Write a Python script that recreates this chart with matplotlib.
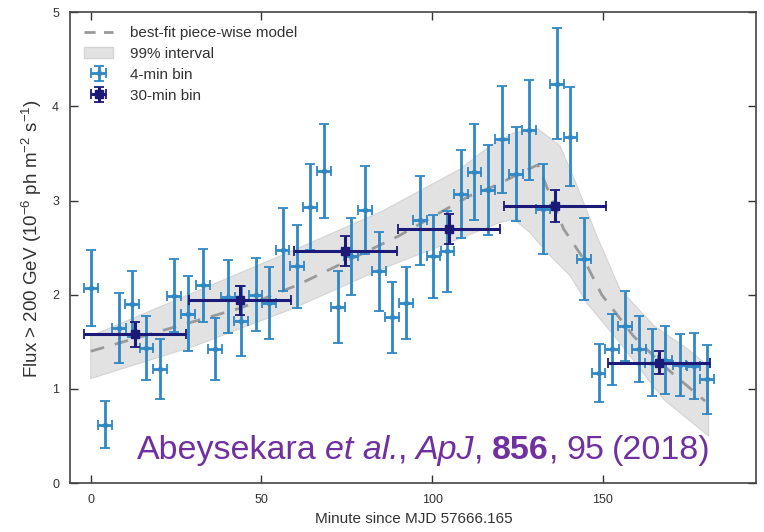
import numpy as np
import matplotlib
matplotlib.use("Agg")
import matplotlib.pyplot as plt
from matplotlib.patches import Patch
from matplotlib.lines import Line2D
from matplotlib.offsetbox import TextArea, HPacker, DrawingArea, AnnotationBbox

plt.rcParams['font.family'] = ['Liberation Sans', 'DejaVu Sans']
plt.rcParams['mathtext.fontset'] = 'custom'
plt.rcParams['mathtext.rm'] = 'Liberation Sans'
plt.rcParams['mathtext.it'] = 'Liberation Sans:italic'
plt.rcParams['mathtext.bf'] = 'Liberation Sans:bold'

# 4-min bins
t4 = [0, 4.1, 8.2, 12.1, 16.3, 20.2, 24.4, 28.4, 32.8, 36.4, 40.2, 44.1, 48.3, 52.3,
      56.2, 60.5, 64.2, 68.4, 72.5, 76.2, 80.3, 84.4, 88.3, 92.3, 96.5, 100.4, 104.5,
      108.4, 112.4, 116.3, 120.4, 124.5, 128.4, 132.5, 136.6, 140.5, 144.5, 148.8,
      152.7, 156.6, 160.7, 164.4, 168.3, 172.5, 176.6, 180.5]
flux4 = [2.07, 0.62, 1.65, 1.90, 1.43, 1.21, 1.99, 1.80, 2.10, 1.42, 1.98, 1.72, 2.00,
         1.91, 2.48, 2.30, 2.93, 3.31, 1.87, 2.41, 2.90, 2.25, 1.76, 1.91, 2.79, 2.41,
         2.46, 3.07, 3.30, 3.11, 3.65, 3.28, 3.75, 2.91, 4.24, 3.68, 2.38, 1.17, 1.42,
         1.67, 1.42, 1.28, 1.31, 1.25, 1.24, 1.10]
err4 = [0.40, 0.25, 0.37, 0.35, 0.34, 0.32, 0.39, 0.40, 0.39, 0.33, 0.39, 0.37, 0.39,
        0.38, 0.44, 0.44, 0.46, 0.50, 0.38, 0.41, 0.47, 0.42, 0.38, 0.38, 0.47, 0.44,
        0.43, 0.47, 0.51, 0.48, 0.57, 0.50, 0.53, 0.48, 0.59, 0.53, 0.44, 0.31, 0.38,
        0.37, 0.35, 0.36, 0.36, 0.33, 0.35, 0.37]

# 30-min bins
t30 = [13, 43.7, 74.6, 105, 136, 166.5]
flux30 = [1.58, 1.94, 2.46, 2.70, 2.94, 1.28]
err30 = [0.13, 0.15, 0.16, 0.16, 0.17, 0.12]

# best-fit model (dashed) and 99% band edges
model_t = [0, 44, 61, 90, 111, 118, 128, 131, 138.5, 144.4, 149.7, 159, 168, 180]
model_f = [1.40, 1.86, 2.11, 2.62, 3.05, 3.15, 3.33, 3.38, 2.70, 2.38, 2.00, 1.56, 1.24, 0.87]
band_top_t = [0, 58, 85, 108, 117, 124, 131, 137.5, 142.4, 148.3, 155, 165, 175, 181]
band_top_f = [1.56, 2.45, 2.88, 3.33, 3.58, 3.72, 3.76, 3.58, 3.16, 2.62, 2.06, 1.67, 1.42, 1.24]
band_bot_t = [0, 30, 59, 85, 109, 120, 124, 128.7, 133.6, 140.5, 145.4, 155, 167.8, 181]
band_bot_f = [1.11, 1.45, 1.85, 2.27, 2.61, 2.77, 2.80, 2.66, 2.45, 2.20, 1.91, 1.49, 0.89, 0.50]

# citation pieces: (text, style, weight); None marks a word space
cite = [('Abeysekara', 'normal', 'normal'), (' ', None, None),
        ('et al.', 'italic', 'normal'), (',', 'normal', 'normal'), (' ', None, None),
        ('ApJ', 'italic', 'normal'), (',', 'normal', 'normal'), (' ', None, None),
        ('856', 'normal', 'bold'), (',', 'normal', 'normal'), (' ', None, None),
        ('95', 'normal', 'normal'), (' ', None, None), ('(2018)', 'normal', 'normal')]

light = '#2f87c4'
dark = '#1c1a78'
band_col = '#e2e2e2'
text_col = '#333333'
purple = '#7030a0'

fig = plt.figure(figsize=(7.64, 5.32), dpi=100)
ax = fig.add_axes([0.092, 0.092, 0.898, 0.885])

ax.fill(band_top_t + band_bot_t[::-1], band_top_f + band_bot_f[::-1],
        color=band_col, ec='#d4d4d4', lw=0.8, zorder=1)
ax.plot(model_t, model_f, color='#9a9a9a', lw=2, dashes=(5, 4), zorder=2)

ax.errorbar(t4, flux4, yerr=err4, xerr=2, fmt='o', ms=3, color=light,
            elinewidth=2, capsize=3.5, capthick=1.3, zorder=3)
ax.errorbar(t30, flux30, yerr=err30, xerr=15, fmt='s', ms=6, color=dark,
            elinewidth=2.2, capsize=3.5, capthick=1.3, zorder=4)

ax.set_xlim(-6, 195)
ax.set_ylim(0, 5)
ax.set_xticks([0, 50, 100, 150])
ax.set_yticks([0, 1, 2, 3, 4, 5])
ax.tick_params(direction='in', length=6, width=1, top=True, right=True,
               labelsize=9, colors=text_col, pad=8)
for s in ax.spines.values():
    s.set_color('#444444')
    s.set_linewidth(1.2)

ax.set_xlabel('Minute since MJD 57666.165', fontsize=11, color=text_col, labelpad=4)
ax.set_ylabel(r'Flux > 200 GeV (10$^{-6}$ ph m$^{-2}$ s$^{-1}$)', fontsize=13.5,
              color=text_col)
ax.yaxis.set_label_coords(-0.038, 0.518)

handles = [
    Line2D([], [], color='#9a9a9a', lw=2, dashes=(4, 3)),
    Patch(facecolor=band_col, edgecolor='#d4d4d4'),
    ax.containers[0],
    ax.containers[1],
]
labels = ['best-fit piece-wise model', '99% interval', '4-min bin', '30-min bin']
leg = ax.legend(handles, labels, loc='upper left', frameon=False, fontsize=11,
                labelspacing=0.45, handlelength=1.9, handletextpad=1.1,
                borderaxespad=0.5)
for t in leg.get_texts():
    t.set_color(text_col)

# citation built from pieces so italic/bold parts sit on one baseline
parts = []
for s, style, weight in cite:
    if style is None:
        parts.append(DrawingArea(5.8, 1))
    else:
        parts.append(TextArea(s, textprops=dict(fontsize=24.5, color=purple,
                                                 fontstyle=style, fontweight=weight)))
box = HPacker(children=parts, align='baseline', pad=0, sep=0)
ab = AnnotationBbox(box, (13.5, 0.35), xycoords='data', box_alignment=(0, 0.5),
                    frameon=False, pad=0)
ax.add_artist(ab)

fig.savefig('out.png', dpi=100)
